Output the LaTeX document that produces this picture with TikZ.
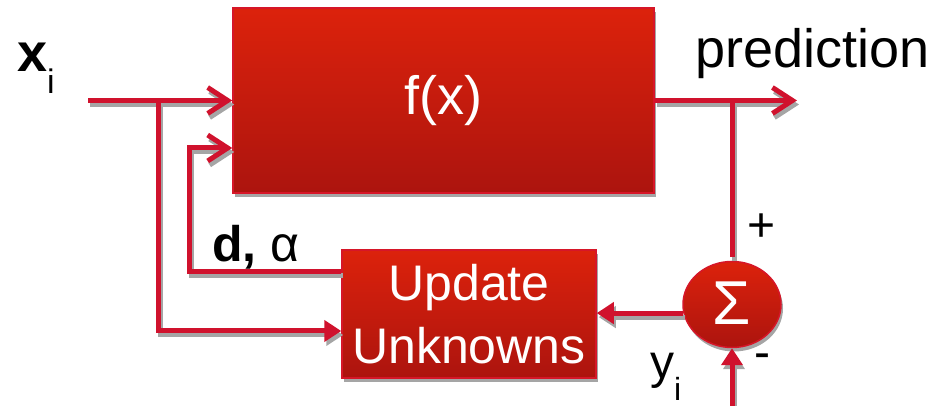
\documentclass[tikz,border=0pt]{standalone}
\usepackage{fontspec}
\setmainfont{Liberation Sans}
\usetikzlibrary{arrows.meta,shadows,shapes.geometric,calc}

\definecolor{wire}{RGB}{208,18,45}
\definecolor{boxtop}{RGB}{220,34,12}
\definecolor{boxbot}{RGB}{172,20,14}
\definecolor{boxedge}{RGB}{214,22,40}
\definecolor{shade}{RGB}{165,165,165}

\tikzset{
  redbox/.style={draw=boxedge, line width=1.5pt, top color=boxtop, bottom color=boxbot,
    drop shadow={shadow xshift=2pt, shadow yshift=-4pt, fill=shade, opacity=1},
    text=white, align=center, inner sep=0pt},
  wireline/.style={draw=wire, line width=5pt,
    preaction={draw=shade, line width=5pt, transform canvas={shift={(2pt,-4pt)}}}},
  opentip/.style={-{Straight Barb[length=20pt,width=26pt,line width=5pt]}},
  solidtip/.style={-{Triangle[length=17pt,width=21pt]}},
  bigtext/.style={font=\fontsize{54}{60}\selectfont},
  midtext/.style={font=\fontsize{48}{56}\selectfont},
}

\begin{document}
\begin{tikzpicture}[x=1pt,y=1pt]
\useasboundingbox (0,0) rectangle (940,406);

% blocks
\node[redbox, minimum width=421pt, minimum height=185pt, bigtext] (fx) at (443.5,305.5) {f(x)};
\node[redbox, minimum width=254pt, minimum height=128pt, font=\fontsize{50}{63}\selectfont] (upd) at (469,92) {Update\\Unknowns};
\node[redbox, ellipse, minimum width=98pt, minimum height=86pt, font=\fontsize{62}{62}\selectfont] (sum) at (732,101.5) {\raisebox{3pt}{Σ}};

% free ends
\coordinate (xin) at (88,305.5);
\coordinate (out) at (797,305.5);
\coordinate (bot) at (0,0);
\coordinate (b1) at (158,305.5);
\coordinate (b2) at (sum.north |- fx.east);

% connectors
\draw[wireline, opentip] (xin) -- (fx.west);
\draw[wireline, solidtip] (b1) |- ([yshift=-17pt]upd.west);
\draw[wireline, opentip] ([yshift=42pt]upd.west) -| ([xshift=-43pt,yshift=-47.5pt]fx.west) -- ([yshift=-47.5pt]fx.west);
\draw[wireline, opentip] (fx.east) -- (out);
\draw[wireline, shorten >=4pt] (b2) -- (sum.north);
\draw[wireline, solidtip] (sum.190) -- (sum.190 -| upd.east);
\draw[wireline, solidtip] (sum.south |- bot) -- (sum.south);

% labels
\node[anchor=base west, bigtext, inner sep=0pt] (pred) at (695,338) {prediction};
\node[anchor=base west, font=\fontsize{54}{60}\selectfont, inner sep=0pt] (xl) at (17,334) {\textbf{x}\raisebox{-22pt}{\fontsize{34}{34}\selectfont i}};
\node[anchor=base west, font=\fontsize{50}{56}\selectfont, inner sep=0pt] (dal) at (212,144) {\textbf{d,} α};
\node[anchor=base west, midtext, inner sep=0pt] (yl) at (650,27) {y\raisebox{-22pt}{\fontsize{32}{32}\selectfont i}};
\node[midtext, inner sep=0pt] (plus) at (762,178) {+};
\node[midtext, inner sep=0pt] (minus) at (762,45) {-};
\end{tikzpicture}
\end{document}
